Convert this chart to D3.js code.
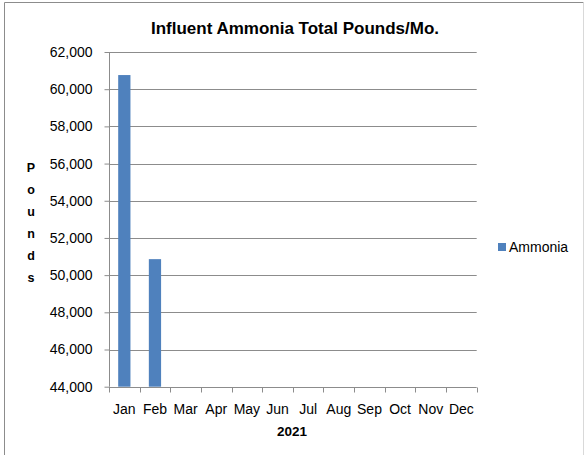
<!DOCTYPE html>
<html>
<head>
<meta charset="utf-8">
<script src="https://cdn.jsdelivr.net/npm/d3@7"></script>
<style>
  html, body { margin: 0; padding: 0; background: #fff; }
  svg { display: block; font-family: "Liberation Sans", Arial, sans-serif; }
</style>
</head>
<body>
<svg id="chart" width="585" height="455"></svg>
<script>
const months = ["Jan","Feb","Mar","Apr","May","Jun","Jul","Aug","Sep","Oct","Nov","Dec"];
const ammonia = [60760, 50860, null, null, null, null, null, null, null, null, null, null];
const yTicks = [44000, 46000, 48000, 50000, 52000, 54000, 56000, 58000, 60000, 62000];
const titleText = "Influent Ammonia Total Pounds/Mo.";
const yTitle = "Pounds";
const xTitle = "2021";
const seriesName = "Ammonia";

(function () {
const svg = d3.select("#chart");
const W = 585, H = 455;
const pLeft = 109, pRight = 476.7, pTop = 52, pBottom = 386.7;
const barColor = "#4F81BD", gridColor = "#8c8c8c";

// outer border
svg.append("line").attr("x1", 4.5).attr("y1", 2.5).attr("x2", 583.5).attr("y2", 2.5).attr("stroke", "#8c8c8c");
svg.append("line").attr("x1", 4.5).attr("y1", 2.5).attr("x2", 4.5).attr("y2", H).attr("stroke", "#8c8c8c");
svg.append("line").attr("x1", 583.5).attr("y1", 2.5).attr("x2", 583.5).attr("y2", H).attr("stroke", "#d9d9d9");

const y = d3.scaleLinear().domain([44000, 62000]).range([pBottom, pTop]);
const x = d3.scaleBand().domain(months).range([pLeft, pRight]).paddingInner(0.6).paddingOuter(0.3);
const step = x.step();

// gridlines
svg.append("g").selectAll("line").data(yTicks.filter(t => t > 44000)).join("line")
  .attr("x1", pLeft).attr("x2", pRight)
  .attr("y1", d => Math.round(y(d)) + 0.5).attr("y2", d => Math.round(y(d)) + 0.5)
  .attr("stroke", gridColor).attr("stroke-width", 1);

// bars
svg.append("g").selectAll("rect").data(months.map((m, i) => ({m, v: ammonia[i]})).filter(d => d.v != null)).join("rect")
  .attr("x", d => x(d.m)).attr("width", x.bandwidth())
  .attr("y", d => y(d.v)).attr("height", d => y(44000) - y(d.v))
  .attr("fill", barColor);

// y axis
const yAxis = d3.axisLeft(y).tickValues(yTicks).tickSize(5).tickPadding(12)
  .tickFormat(d3.format(","));
const gy = svg.append("g").attr("transform", `translate(${pLeft + 0.5},0)`).call(yAxis);
gy.select(".domain").attr("stroke", gridColor).attr("d", `M0,${pTop}V${pBottom}`);
gy.selectAll(".tick line").attr("stroke", gridColor);
gy.selectAll(".tick text").attr("font-size", 14).attr("fill", "#000")
  .attr("font-family", "Liberation Sans, Arial, sans-serif");

// x axis
const xAxis = d3.axisBottom(x).tickSize(0).tickPadding(0);
const gx = svg.append("g").attr("transform", `translate(0,${Math.round(pBottom) + 0.5})`).call(xAxis);
gx.select(".domain").attr("stroke", gridColor).attr("d", `M${pLeft},0H${pRight}`);
gx.selectAll(".tick text").attr("font-size", 14).attr("fill", "#000").attr("dy", null).attr("y", 26.5)
  .attr("font-family", "Liberation Sans, Arial, sans-serif");
// category boundary tick marks
const bounds = months.map(m => x(m) - step * 0.3).concat([pRight]);
gx.append("g").selectAll("line").data(bounds).join("line")
  .attr("x1", d => Math.round(d) + 0.5).attr("x2", d => Math.round(d) + 0.5)
  .attr("y1", 0).attr("y2", 5).attr("stroke", gridColor);

// title
svg.append("text").attr("x", 295).attr("y", 33.5).attr("text-anchor", "middle")
  .attr("font-size", 17).attr("font-weight", "bold").attr("fill", "#000").text(titleText);

// x title
svg.append("text").attr("x", 292).attr("y", 436).attr("text-anchor", "middle")
  .attr("font-size", 13.5).attr("font-weight", "bold").attr("fill", "#000").text(xTitle);

// y title, stacked letters
svg.append("g").selectAll("text").data(yTitle.split("")).join("text")
  .attr("x", 31).attr("y", (d, i) => 172 + i * 22).attr("text-anchor", "middle")
  .attr("font-size", 12.5).attr("font-weight", "bold").attr("fill", "#000").text(d => d);

// legend
const lg = svg.append("g");
lg.append("rect").attr("x", 498).attr("y", 243).attr("width", 8).attr("height", 8).attr("fill", barColor);
lg.append("text").attr("x", 509).attr("y", 252).attr("font-size", 14).attr("fill", "#000").text(seriesName);
})();
</script>
</body>
</html>
